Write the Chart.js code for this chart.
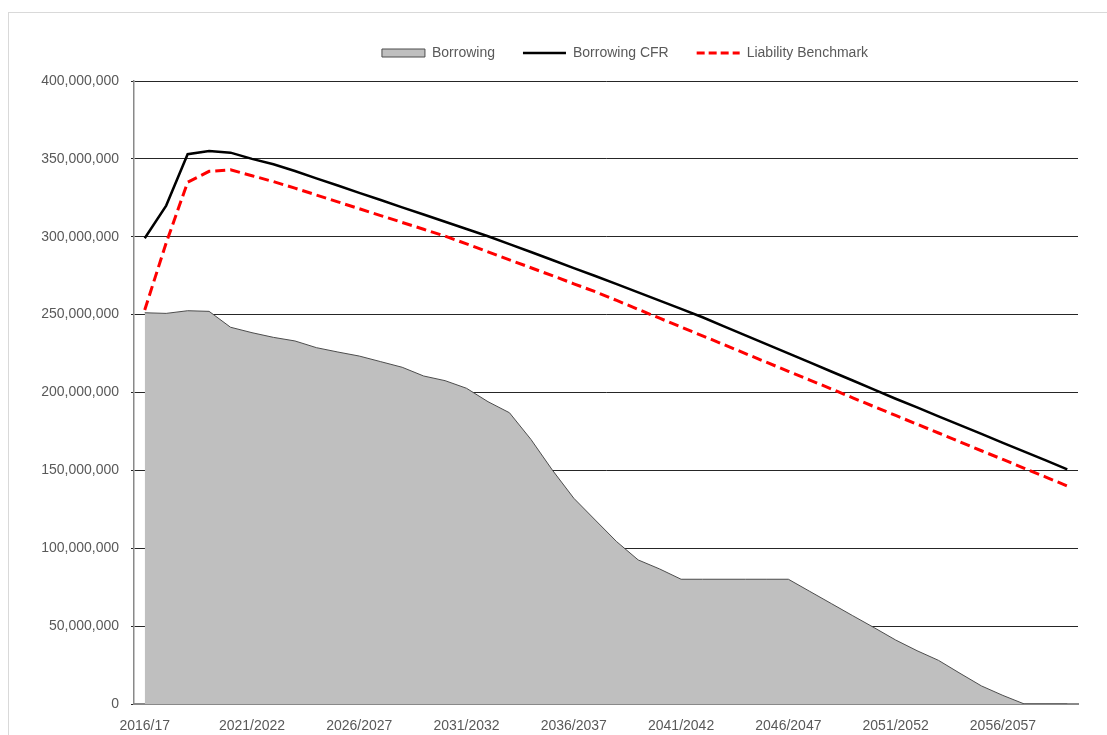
<!DOCTYPE html>
<html>
<head>
<meta charset="utf-8">
<script src="https://cdn.jsdelivr.net/npm/chart.js@4"></script>
<style>
  html, body { margin: 0; padding: 0; background: #fff; overflow: hidden; }
  #frame { position: absolute; left: 8px; top: 12px; width: 1300px; height: 900px; border: 1px solid #d9d9d9; }
  #chart { position: absolute; left: 0; top: 0; }
</style>
</head>
<body>
<div id="frame"></div>
<canvas id="chart" width="1107" height="735"></canvas>
<script>
/* global Chart */
const years = [
  '2016/17', '2017/2018', '2018/2019', '2019/2020', '2020/2021',
  '2021/2022', '2022/2023', '2023/2024', '2024/2025', '2025/2026',
  '2026/2027', '2027/2028', '2028/2029', '2029/2030', '2030/2031',
  '2031/2032', '2032/2033', '2033/2034', '2034/2035', '2035/2036',
  '2036/2037', '2037/2038', '2038/2039', '2039/2040', '2040/2041',
  '2041/2042', '2042/2043', '2043/2044', '2044/2045', '2045/2046',
  '2046/2047', '2047/2048', '2048/2049', '2049/2050', '2050/2051',
  '2051/2052', '2052/2053', '2053/2054', '2054/2055', '2055/2056',
  '2056/2057', '2057/2058', '2058/2059', '2059/2060',
];

// values in millions
const borrowingM = [
  251.2, 250.8, 252.5, 252.1, 241.9, 238.4, 235.4, 233.1, 228.8, 226.0,
  223.4, 219.8, 216.2, 210.6, 207.6, 202.7, 194.1, 187.0, 169.9, 150.2,
  132.1, 118.1, 104.2, 92.5, 86.7, 80.1, 80.1, 80.1, 80.1, 80.1,
  80.1, 72.3, 64.5, 56.7, 49.0, 41.1, 34.2, 28.0, 19.7, 11.6,
  5.5, 0, 0, 0,
];
const cfrM = [
  299, 320, 353, 355, 354, 350, 346.5, 342.2, 337.5, 332.9,
  328.2, 323.6, 318.9, 314.3, 309.6, 305, 300.3, 295.3, 290.2, 285.1,
  279.9, 274.8, 269.6, 264.3, 259, 253.7, 248.3, 242.5, 236.7, 230.9,
  225.1, 219.3, 213.5, 207.7, 201.9, 196.0, 190.4, 184.7, 179.0, 173.4,
  167.7, 162.0, 156.4, 150.7,
];
const benchmarkM = [
  253, 296, 335, 342, 343, 339.2, 335.4, 331.2, 326.8, 322.4,
  318, 313.6, 309.2, 304.8, 300.4, 295.4, 290.3, 285.2, 280.1, 275,
  269.8, 264.7, 259.1, 253.4, 247.7, 242, 236.4, 230.7, 225, 219.3,
  213.6, 208, 202.3, 196.6, 190.9, 185.3, 179.6, 174, 168.3, 162.6,
  157, 151.3, 145.7, 140,
];

const toUnits = (arr) => arr.map((v) => v * 1e6);
const textColor = '#595959';
const fontFamily = '"Liberation Sans", Arial, sans-serif';

// legend sits a bit right of centre and closer to the top, like the Excel original
const moveLegend = {
  id: 'moveLegend',
  afterLayout(chart) {
    const lg = chart.legend;
    if (!lg) return;
    lg.left += 86; lg.right += 86;
    lg.top -= 11; lg.bottom -= 11;
  },
};

new Chart(document.getElementById('chart'), {
  type: 'line',
  data: {
    labels: years,
    datasets: [
      {
        label: 'Borrowing',
        data: toUnits(borrowingM),
        fill: 'origin',
        backgroundColor: '#bfbfbf',
        borderColor: '#4d4d4d',
        borderWidth: 1,
        pointRadius: 0,
        pointStyle: 'rect',
        tension: 0,
        order: 3,
      },
      {
        label: 'Borrowing CFR',
        data: toUnits(cfrM),
        fill: false,
        borderColor: '#000000',
        backgroundColor: '#000000',
        borderWidth: 2.5,
        pointRadius: 0,
        pointStyle: 'line',
        tension: 0,
        order: 2,
      },
      {
        label: 'Liability Benchmark',
        data: toUnits(benchmarkM),
        fill: false,
        borderColor: '#ff0000',
        backgroundColor: '#ff0000',
        borderWidth: 3,
        borderDash: [10, 5],
        pointRadius: 0,
        pointStyle: 'line',
        tension: 0,
        order: 1,
      },
    ],
  },
  plugins: [moveLegend],
  options: {
    responsive: false,
    animation: false,
    devicePixelRatio: 1,
    layout: { padding: { top: 29, right: 29, bottom: 0, left: 0 } },
    plugins: {
      tooltip: { enabled: false },
      legend: {
        position: 'top',
        labels: {
          usePointStyle: true,
          pointStyleWidth: 43,
          boxHeight: 8,
          padding: 28,
          color: textColor,
          font: { family: fontFamily, size: 14 },
          sort: (a, b) => a.datasetIndex - b.datasetIndex,
          generateLabels(chart) {
            const items = Chart.defaults.plugins.legend.labels.generateLabels(chart);
            items.forEach((it) => {
              if (it.datasetIndex === 2) it.lineDash = [8, 4];
            });
            return items;
          },
        },
      },
    },
    scales: {
      x: {
        offset: true,
        grid: { display: false, drawTicks: false },
        border: { color: '#898989', width: 2 },
        ticks: {
          autoSkip: false,
          maxRotation: 0,
          padding: 14,
          color: textColor,
          font: { family: fontFamily, size: 14 },
          callback: (val, i) => (i % 5 === 0 ? years[i] : ''),
        },
        afterFit: (scale) => { scale.height = 31; },
      },
      y: {
        min: 0,
        max: 400e6,
        ticks: {
          stepSize: 50e6,
          padding: 12,
          color: textColor,
          font: { family: fontFamily, size: 14 },
          callback: (v) => Number(v).toLocaleString('en-US'),
        },
        grid: { color: '#262626', lineWidth: 1, tickLength: 3 },
        border: { color: '#898989', width: 1.5 },
        afterFit: (scale) => { scale.width = 134; },
      },
    },
  },
});
</script>
</body>
</html>
